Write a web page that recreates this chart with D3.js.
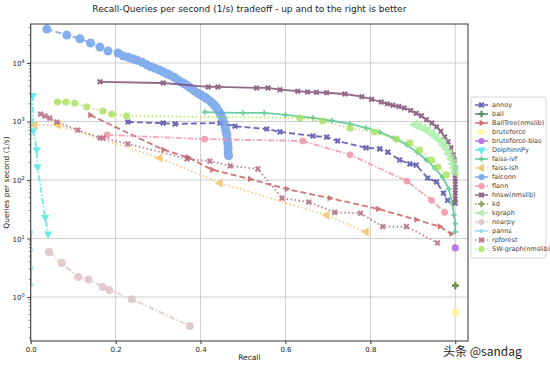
<!DOCTYPE html>
<html>
<head>
<meta charset="utf-8">
<script src="https://cdn.jsdelivr.net/npm/d3@7"></script>
<style>
  body { margin: 0; background: #fff; }
  text { font-family: "DejaVu Sans", sans-serif; fill: #222; }
</style>
</head>
<body>
<div id="chart"></div>
<script>
// data: [recall, queries per second]
var annoy = [[0.229,980],[0.312,940],[0.34,910],[0.446,940],[0.481,830],[0.556,745],[0.587,665],[0.665,565],[0.697,540],[0.723,465],[0.79,355],[0.822,340],[0.841,300],[0.869,220],[0.893,188],[0.908,180],[0.935,108],[0.956,93],[0.972,60],[0.982,45]];
var ball = [[1.0,1.55]];
var ballTree = [[0.14,1290],[0.312,330],[0.37,245],[0.427,150],[0.516,104],[0.603,70],[0.704,49],[0.818,32],[0.908,21],[0.963,16],[0.99,12]];
var bruteforce = [[1.0,0.55]];
var bruteforceBlas = [[1.0,6.9]];
var dolphinn = [[0.005,2800],[0.006,700],[0.014,330],[0.016,167],[0.034,23],[0.041,12]];
var faissIvf = [[0.41,1450],[0.45,1420],[0.50,1400],[0.55,1400],[0.60,1300],[0.665,1150],[0.71,1030],[0.752,910],[0.79,780],[0.822,660],[0.855,520],[0.886,400],[0.91,300],[0.932,220],[0.952,160],[0.97,112],[0.985,70],[0.993,40],[0.997,25],[1.0,18],[1.0,13]];
var faissLsh = [[0.01,870],[0.065,870],[0.304,237],[0.446,89],[0.697,25],[0.79,13]];
var falconn = [[0.038,38000],[0.085,30000],[0.116,26000],[0.141,22000],[0.163,18700],[0.182,16000],[0.206,14800],[0.218,13200],[0.23,12500],[0.24,11800],[0.25,11200],[0.262,10300],[0.273,9300],[0.283,8600],[0.293,8100],[0.303,7600],[0.312,7100],[0.32,6600],[0.328,6200],[0.338,5700],[0.347,5100],[0.355,4700],[0.362,4400],[0.368,4150],[0.375,3800],[0.382,3500],[0.387,3300],[0.395,3000],[0.402,2800],[0.41,2600],[0.415,2450],[0.422,2250],[0.428,2050],[0.433,1900],[0.438,1700],[0.443,1500],[0.448,1300],[0.452,1120],[0.455,950],[0.458,800],[0.46,680],[0.462,600],[0.463,500],[0.464,420],[0.465,350],[0.465,290],[0.466,260]];
var flann = [[0.18,590],[0.41,500],[0.641,465],[0.752,270],[0.886,96],[0.944,45],[0.975,28]];
var hnsw = [[0.163,4770],[0.312,4550],[0.418,3900],[0.441,3900],[0.532,3750],[0.559,3750],[0.587,3500],[0.629,3300],[0.652,3200],[0.673,3150],[0.697,3100],[0.74,2950],[0.78,2650],[0.803,2400],[0.826,2150],[0.84,2000],[0.853,1900],[0.867,1800],[0.88,1700],[0.895,1550],[0.908,1380],[0.92,1250],[0.932,1070],[0.945,940],[0.956,810],[0.966,680],[0.975,550],[0.983,450],[0.99,355],[0.995,270],[0.998,220],[1.0,160],[1.0,120],[1.0,95],[1.0,75],[1.0,60],[1.0,48],[1.0,40]];
var kd = [[1.0,1.6]];
var kgraph = [[0.905,880],[0.915,830],[0.925,760],[0.935,700],[0.945,620],[0.955,540],[0.965,470],[0.973,400],[0.98,340],[0.986,280],[0.991,230],[0.995,190],[0.998,160],[1.0,135]];
var nearpy = [[0.043,5.9],[0.073,3.8],[0.112,2.2],[0.136,2.0],[0.17,1.48],[0.185,1.32],[0.238,0.92],[0.375,0.32]];
var panns = [[0.001,13],[0.001,6.4],[0.001,3.1],[0.001,1.6]];
var rpforest = [[0.023,1340],[0.034,1240],[0.045,1140],[0.061,980],[0.111,715],[0.163,525],[0.17,520],[0.229,415],[0.368,230],[0.422,210],[0.47,174],[0.535,155],[0.592,49],[0.655,42],[0.716,28],[0.777,27],[0.829,16],[0.885,16],[0.958,8.4]];
var swGraph = [[0.063,2150],[0.083,2150],[0.104,2050],[0.132,1780],[0.17,1510],[0.191,1340],[0.226,1240],[0.634,1150],[0.688,1020],[0.752,770],[0.81,660],[0.862,500],[0.893,430],[0.916,325],[0.944,220],[0.959,167],[0.979,122]];

var xTicks = [0, 0.2, 0.4, 0.6, 0.8, 1.0];
var xTickLabels = ["0.0", "0.2", "0.4", "0.6", "0.8", ""]; // 1.0 sits under the watermark
var yTicks = [1, 10, 100, 1000, 10000];

// how each algorithm is drawn
var series = [
  {name: "annoy", data: annoy, color: "#4a4aa8", dash: "6,3", marker: "X", size: 24},
  {name: "ball", data: ball, color: "#3d7a4c", dash: null, marker: "plus", size: 24},
  {name: "BallTree(nmslib)", data: ballTree, color: "#c45a5a", dash: "6,3", marker: "tri-right", size: 18},
  {name: "bruteforce", data: bruteforce, color: "#fdf39a", dash: null, marker: "circle", size: 50},
  {name: "bruteforce-blas", data: bruteforceBlas, color: "#b45ce0", dash: "6,3", marker: "circle", size: 40},
  {name: "DolphinnPy", data: dolphinn, color: "#4ee6e6", dash: "6,2,1.5,2", marker: "tri-down", size: 30},
  {name: "faiss-ivf", data: faissIvf, color: "#4cc48a", dash: null, marker: "plus", size: 16},
  {name: "faiss-lsh", data: faissLsh, color: "#f2c060", dash: "1.5,2.5", marker: "tri-left", size: 36},
  {name: "falconn", data: falconn, color: "#6a9ee8", dash: "6,3", marker: "circle", size: 64},
  {name: "flann", data: flann, color: "#f08fa0", dash: "6,2,1.5,2", marker: "circle", size: 36},
  {name: "hnsw(nmslib)", data: hnsw, color: "#7a4870", dash: null, marker: "X", size: 22},
  {name: "kd", data: kd, color: "#7f8f40", dash: "1.5,2.5", marker: "plus", size: 24},
  {name: "kgraph", data: kgraph, color: "#a6eea6", dash: null, marker: "tri-left", size: 50},
  {name: "nearpy", data: nearpy, color: "#dcc0c0", dash: "6,2,1.5,2", marker: "circle", size: 50},
  {name: "panns", data: panns, color: "#7fd6e4", dash: null, marker: "circle", size: 12},
  {name: "rpforest", data: rpforest, color: "#b0627e", dash: "1.5,2.5", marker: "X", size: 24},
  {name: "SW-graph(nmslib)", data: swGraph, color: "#a8e25e", dash: "1.5,2.5", marker: "circle", size: 40}
];

var svgWidth = 550;
var svgHeight = 366;
var plot = {left: 30.7, right: 468, top: 24, bottom: 341};

var svg = d3.select("#chart")
  .append("svg")
  .attr("width", svgWidth)
  .attr("height", svgHeight);

var x = d3.scaleLinear().domain([0, 1.03]).range([plot.left, plot.right]);
var y = d3.scaleLog().domain([0.177, 46400]).range([plot.bottom, plot.top]);

// grid
svg.append("g").selectAll("line")
  .data(xTicks)
  .enter().append("line")
  .attr("x1", d => x(d)).attr("x2", d => x(d))
  .attr("y1", plot.top).attr("y2", plot.bottom)
  .attr("stroke", "#cfcfcf").attr("stroke-width", 1);
svg.append("g").selectAll("line")
  .data(yTicks)
  .enter().append("line")
  .attr("x1", plot.left).attr("x2", plot.right)
  .attr("y1", d => y(d)).attr("y2", d => y(d))
  .attr("stroke", "#cfcfcf").attr("stroke-width", 1);

svg.append("clipPath").attr("id", "plotclip")
  .append("rect")
  .attr("x", plot.left).attr("y", plot.top)
  .attr("width", plot.right - plot.left).attr("height", plot.bottom - plot.top);

function markerPath(kind, size) {
  if (kind === "circle") return d3.symbol(d3.symbolCircle, size)();
  if (kind === "X" || kind === "plus") return d3.symbol(d3.symbolCross, size)();
  return d3.symbol(d3.symbolTriangle, size)();
}
function markerRotate(kind) {
  if (kind === "X") return 45;
  if (kind === "tri-down") return 180;
  if (kind === "tri-left") return -90;
  if (kind === "tri-right") return 90;
  return 0;
}

var line = d3.line().x(d => x(d[0])).y(d => y(d[1]));

var dataGroup = svg.append("g").attr("clip-path", "url(#plotclip)");

series.forEach(function(s) {
  var g = dataGroup.append("g").attr("opacity", 0.82);
  if (s.data.length > 1) {
    g.append("path")
      .datum(s.data)
      .attr("d", line)
      .attr("fill", "none")
      .attr("stroke", s.color)
      .attr("stroke-width", 1.8)
      .attr("stroke-dasharray", s.dash);
  }
  g.selectAll("path.m")
    .data(s.data)
    .enter().append("path")
    .attr("class", "m")
    .attr("d", markerPath(s.marker, s.size))
    .attr("transform", d => `translate(${x(d[0])},${y(d[1])}) rotate(${markerRotate(s.marker)})`)
    .attr("fill", s.color);
});

// frame
svg.append("rect")
  .attr("x", plot.left).attr("y", plot.top)
  .attr("width", plot.right - plot.left).attr("height", plot.bottom - plot.top)
  .attr("fill", "none").attr("stroke", "#333").attr("stroke-width", 1);

// axes
var bottomAxis = d3.axisBottom(x).tickValues(xTicks)
  .tickFormat((d, i) => xTickLabels[i]).tickSize(3).tickPadding(3);
var xAxis = svg.append("g")
  .attr("transform", `translate(0, ${plot.bottom})`)
  .call(bottomAxis);
xAxis.select(".domain").remove();
xAxis.selectAll("text").style("font-size", "7px").attr("fill", "#333");
xAxis.selectAll("line").attr("stroke", "#333");

var minorTicks = [];
for (var e = -1; e <= 4; e++) {
  for (var m = 2; m <= 9; m++) {
    var v = m * Math.pow(10, e);
    if (v > 0.177 && v < 46400) minorTicks.push(v);
  }
}
svg.append("g").selectAll("line")
  .data(minorTicks)
  .enter().append("line")
  .attr("x1", plot.left - 2).attr("x2", plot.left)
  .attr("y1", d => y(d)).attr("y2", d => y(d))
  .attr("stroke", "#333").attr("stroke-width", 0.6);

var leftAxis = d3.axisLeft(y).tickValues(yTicks).tickFormat("").tickSize(3.5);
var yAxis = svg.append("g")
  .attr("transform", `translate(${plot.left}, 0)`)
  .call(leftAxis);
yAxis.select(".domain").remove();
yAxis.selectAll("line").attr("stroke", "#333");

var yLabels = svg.append("g").selectAll("text")
  .data(yTicks)
  .enter().append("text")
  .attr("x", plot.left - 6)
  .attr("y", d => y(d) + 3)
  .attr("text-anchor", "end")
  .style("font-size", "7px")
  .attr("fill", "#333");
yLabels.append("tspan").text("10");
yLabels.append("tspan")
  .attr("dy", -3)
  .style("font-size", "5px")
  .text(d => Math.round(Math.log10(d)));

// titles
svg.append("text")
  .attr("x", (plot.left + plot.right) / 2)
  .attr("y", 12)
  .attr("text-anchor", "middle")
  .style("font-size", "9px")
  .text("Recall-Queries per second (1/s) tradeoff - up and to the right is better");

svg.append("text")
  .attr("x", (plot.left + plot.right) / 2)
  .attr("y", 360)
  .attr("text-anchor", "middle")
  .style("font-size", "7.5px")
  .text("Recall");

svg.append("text")
  .attr("transform", `translate(9, ${(plot.top + plot.bottom) / 2}) rotate(-90)`)
  .attr("text-anchor", "middle")
  .style("font-size", "7.5px")
  .text("Queries per second (1/s)");

// legend
var legend = svg.append("g").attr("transform", "translate(471, 97)");
legend.append("rect")
  .attr("width", 75).attr("height", 161)
  .attr("fill", "#fff").attr("stroke", "#ccc").attr("stroke-width", 0.8).attr("rx", 2);

var rows = legend.selectAll("g.row")
  .data(series)
  .enter().append("g")
  .attr("class", "row")
  .attr("transform", (d, i) => `translate(0, ${8 + i * 9})`)
  .attr("opacity", 0.85);
rows.append("line")
  .attr("x1", 4).attr("x2", 17)
  .attr("stroke", d => d.color)
  .attr("stroke-width", 1.5)
  .attr("stroke-dasharray", d => d.dash);
rows.append("path")
  .attr("d", d => markerPath(d.marker, Math.min(d.size, 30)))
  .attr("transform", d => `translate(10.5,0) rotate(${markerRotate(d.marker)})`)
  .attr("fill", d => d.color);
rows.append("text")
  .attr("x", 21)
  .attr("y", 2.4)
  .style("font-size", "6.5px")
  .text(d => d.name);

// watermark
svg.append("text")
  .attr("x", 443)
  .attr("y", 356)
  .style("font-family", "'Noto Sans CJK SC', sans-serif")
  .style("font-size", "12px")
  .attr("fill", "#333")
  .text("头条 @sandag");
</script>
</body>
</html>
